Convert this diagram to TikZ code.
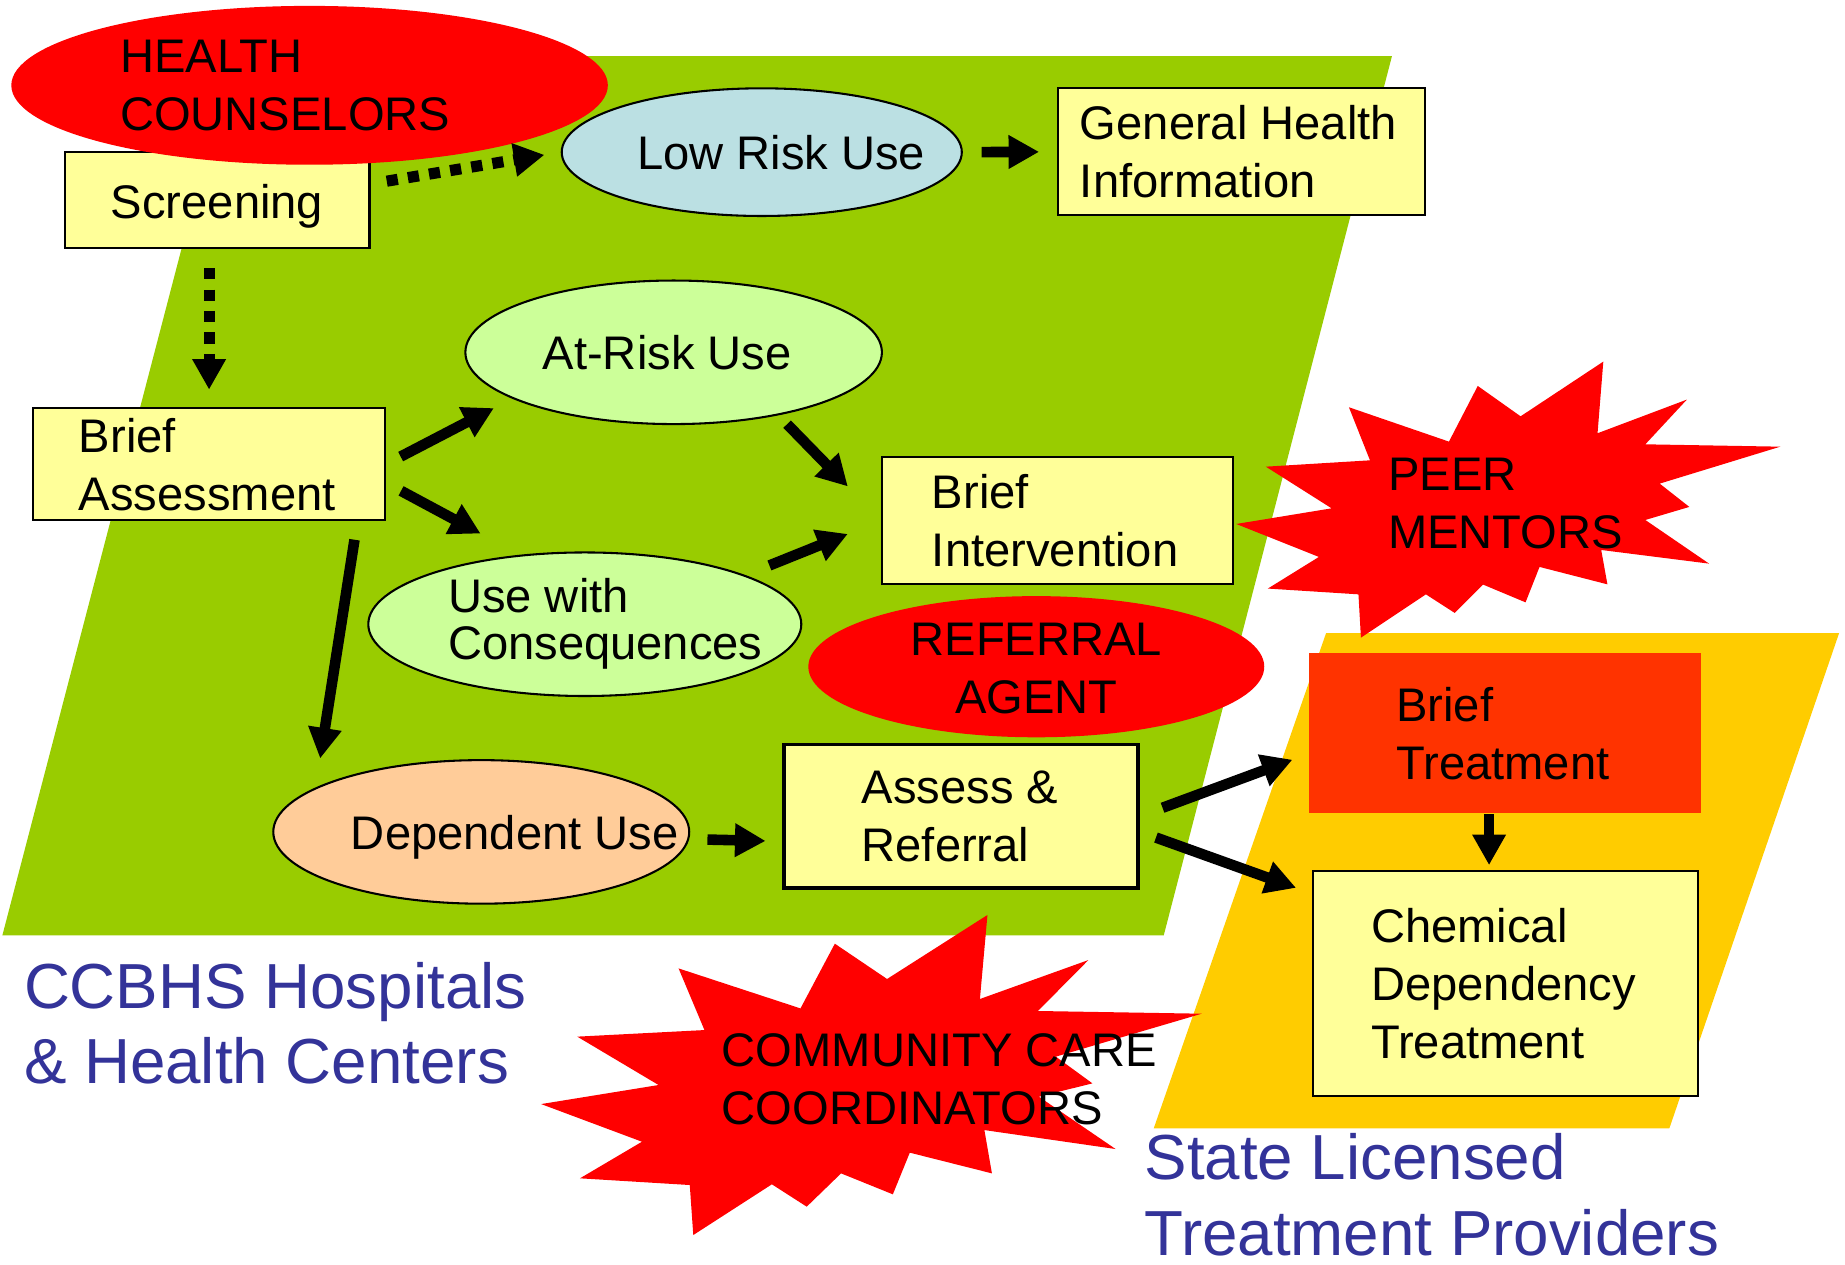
\documentclass[tikz,border=0pt]{standalone}
\usepackage{fontspec}
\setmainfont{Liberation Sans}
\usetikzlibrary{shapes.geometric,arrows.meta,positioning}

\definecolor{leaf}{HTML}{99CC00}
\definecolor{amber}{HTML}{FFCC00}
\definecolor{cream}{HTML}{FFFF99}
\definecolor{mint}{HTML}{CCFF99}
\definecolor{sky}{HTML}{BBE0E3}
\definecolor{peach}{HTML}{FFCC99}
\definecolor{flame}{HTML}{FF3300}
\definecolor{inkblue}{HTML}{333399}

\newcommand{\chartfont}{\fontsize{11.4}{14}\selectfont}
\newcommand{\regionfont}{\fontsize{15.4}{18.2}\selectfont}

\tikzset{
	box/.style={rectangle, draw=black, line width=0.5pt, fill=cream, inner sep=0pt},
	oval/.style={ellipse, draw=black, line width=0.5pt, inner sep=0pt},
	redoval/.style={ellipse, fill=red, inner sep=0pt},
	txt/.style={inner sep=0pt, align=left, font=\chartfont},
	arr/.style={line width=0.9mm, -{Triangle[length=2.6mm,width=2.7mm]}},
	dotarr/.style={arr, line width=0.95mm, dash pattern=on 0.95mm off 0.87mm}
}

\begin{document}
\begin{tikzpicture}[x=0.1mm, y=-0.1mm]
	\useasboundingbox (0,0) rectangle (1568,1075);
	% the two settings
	\fill[leaf] (2,795) -- (989,795) -- (1183,47.6) -- (197,47.6) -- cycle;
	\fill[amber] (980.5,959) -- (1418.7,959) -- (1563,538) -- (1127,538) -- cycle;

	\node[box, minimum width=25.9mm, minimum height=8.2mm] (scr) at (184.5,170) {};
	\node[txt] (scrtxt) at ([yshift=-0.5mm]scr.center) {Screening};
	\node[redoval, minimum width=50.7mm, minimum height=13.5mm] (hc) at (263.1,72.5) {};
	\node[txt, anchor=west] (hctxt) at ([xshift=9.25mm]hc.west) {HEALTH\\COUNSELORS};

	\node[oval, fill=sky, minimum width=34mm, minimum height=10.85mm] (low) at (647.4,129.3) {};
	\node[txt] (lowtxt) at ([xshift=1.65mm]low.center) {Low Risk Use};
	\node[box, minimum width=31.2mm, minimum height=10.8mm] (ghi) at (1055,129) {};
	\node[txt, anchor=west] (ghitxt) at ([xshift=1.9mm]ghi.west) {General Health\\Information};

	\node[box, minimum width=29.9mm, minimum height=9.5mm] (bass) at (177.7,394.5) {};
	\node[txt, anchor=west] (basstxt) at ([xshift=3.9mm]bass.west) {Brief\\Assessment};
	\node[oval, fill=mint, minimum width=35.4mm, minimum height=12.2mm] (atrisk) at (572.5,299.4) {};
	\node[txt] (atrisktxt) at ([xshift=-0.55mm]atrisk.center) {At-Risk Use};
	\node[oval, fill=mint, minimum width=36.8mm, minimum height=12.2mm] (cons) at (497,530.5) {};
	\node[txt, anchor=west, font=\fontsize{11.4}{11.4}\selectfont] (constxt) at ([xshift=6.8mm]cons.west) {Use with\\Consequences};
	\node[box, minimum width=29.8mm, minimum height=10.85mm] (bint) at (898.7,442.4) {};
	\node[txt, anchor=west] (binttxt) at ([xshift=4.25mm]bint.west) {Brief\\Intervention};

	\node[redoval, minimum width=38.75mm, minimum height=12mm] (refag) at (880.7,566.6) {};
	\node[txt, align=center] (refagtxt) at ([yshift=-0.15mm]refag.center) {REFERRAL\\AGENT};

	\node[oval, fill=peach, minimum width=35.35mm, minimum height=12.2mm] (dep) at (409,707) {};
	\node[txt] (deptxt) at ([xshift=2.85mm,yshift=-0.5mm]dep.center) {Dependent Use};
	\node[box, line width=0.9pt, minimum width=30.1mm, minimum height=12.2mm] (assess) at (816.7,693.6) {};
	\node[txt, anchor=west] (assesstxt) at ([xshift=6.7mm]assess.west) {Assess \&\\Referral};

	\node[box, draw=none, fill=flame, minimum width=33.3mm, minimum height=13.6mm] (btreat) at (1278.9,623.2) {};
	\node[txt, anchor=west] (btreattxt) at ([xshift=7.45mm]btreat.west) {Brief\\Treatment};
	\node[box, minimum width=32.7mm, minimum height=19.1mm] (cdt) at (1279.5,836.1) {};
	\node[txt, anchor=west] (cdttxt) at ([xshift=4.95mm]cdt.west) {Chemical\\Dependency\\Treatment};

	% bursts
	\fill[red] (1146.4,346.1) -- (1231.4,375.3) -- (1255.9,328) -- (1292.3,353.8) -- (1362.6,307.3)
		-- (1357.7,368.2) -- (1433.6,339.6) -- (1398.3,377.6) -- (1513,379.6) -- (1410.5,411)
		-- (1435.7,430.8) -- (1398.3,441.9) -- (1452.5,479) -- (1360.8,467.4) -- (1366.1,496.6)
		-- (1308.4,481.8) -- (1296.5,511.9) -- (1260.4,496.8) -- (1236.3,520.9) -- (1211.8,505.1)
		-- (1156.6,541.9) -- (1154.5,505.1) -- (1077.5,500.2) -- (1120.9,473.3) -- (1050.6,445.3)
		-- (1131.7,432) -- (1075.8,396.6) -- (1164.3,391.2) -- cycle;
	\node[txt, anchor=west] (peertxt) at (1179,428.2) {PEER\\MENTORS};
	\fill[red] (576.7,823) -- (680.3,857) -- (709.5,802) -- (753.9,832) -- (839.2,777.6)
		-- (832.8,849) -- (925,815.9) -- (882.1,859.2) -- (1021.3,861.5) -- (897.3,898)
		-- (928.4,920.7) -- (882.9,932) -- (948.1,976.5) -- (836.6,960.4) -- (843,997.2)
		-- (773.2,979.6) -- (758.8,1015) -- (714.8,997.2) -- (685.6,1025.5) -- (656,1006.5)
		-- (589.2,1049.6) -- (586.2,1007.1) -- (492.9,1001.4) -- (545.6,970.3) -- (459.9,938.3)
		-- (559.7,922.1) -- (490.6,881) -- (598.7,875.4) -- cycle;
	\node[txt, anchor=west] (cctxt) at (612.8,917.4) {COMMUNITY CARE\\COORDINATORS};

	\node[txt, anchor=west, text=inkblue, font=\regionfont] (ccbhs) at (19.7,869.3) {CCBHS Hospitals\\\& Health Centers};
	\node[txt, anchor=west, text=inkblue, font=\regionfont] (state) at (972,1015.4) {State Licensed\\Treatment Providers};

	% arrows
	\draw[dotarr, shorten <=1.4mm, shorten >=1.4mm] (scr.6) -- (low.west);
	\draw[dotarr, shorten <=1.6mm, shorten >=1.5mm] (scr.south -| bass.north) -- (bass.north);
	\draw[arr, shorten <=1.6mm, shorten >=1.5mm] (low.east) -- (ghi.west);
	\draw[arr, shorten <=1.4mm, shorten >=1.75mm] (bass.east) -- (atrisk.196);
	\draw[arr, shorten <=1.45mm, shorten >=3.8mm] (bass.-6.5) -- (cons.133);
	\draw[arr, shorten <=1.05mm, shorten >=4.05mm] (atrisk.-31) -- (bint.west);
	\draw[arr, shorten <=2.2mm, shorten >=3.05mm] (cons.17) -- (bint.west);
	\draw[arr, shorten <=1.6mm, shorten >=2.5mm] (bass.-21.5) -- (dep.165);
	\draw[arr, shorten <=1.55mm, shorten >=1.4mm] (dep.-2.3) -- (assess.188);
	\draw[arr, shorten <=2.05mm, shorten >=1.4mm] (assess.east) -- (btreat.186);
	\draw[arr, shorten <=1.45mm, shorten >=1.45mm] (assess.-5.3) -- (cdt.155);
	\draw[arr, shorten >=0.45mm] (btreat.-101) -- (btreat.-101 |- cdt.north);
\end{tikzpicture}
\end{document}
